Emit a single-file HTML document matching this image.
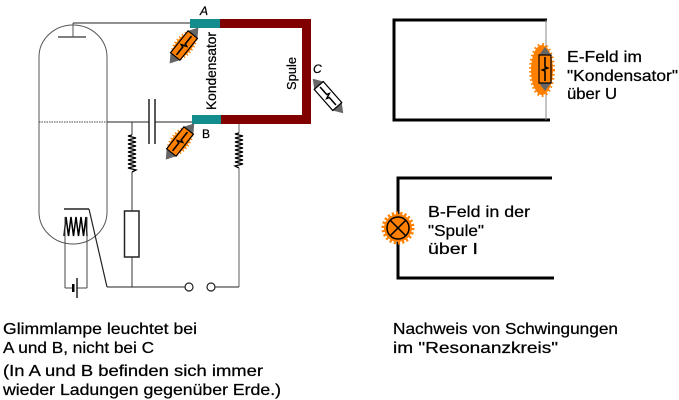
<!DOCTYPE html>
<html><head><meta charset="utf-8"><style>
html,body{margin:0;padding:0;background:#fff;}
svg{display:block;}
text{font-family:"Liberation Sans",sans-serif;fill:#000;stroke:#000;stroke-width:0.25;}
</style></head><body>
<svg width="679" height="400" viewBox="0 0 679 400" xmlns="http://www.w3.org/2000/svg">
<rect width="679" height="400" fill="#fff"/>
<!-- tube -->
<rect x="39" y="25" width="68" height="219" rx="34" ry="32" fill="none" stroke="#555" stroke-width="1"/>
<!-- anode -->
<line x1="73" y1="23" x2="73" y2="37" stroke="#555" stroke-width="1"/>
<line x1="58" y1="37" x2="86" y2="37" stroke="#555" stroke-width="1.5"/>
<line x1="73" y1="23" x2="191" y2="23" stroke="#222" stroke-width="1"/>
<!-- grid dashed -->
<line x1="39" y1="122" x2="107" y2="122" stroke="#444" stroke-width="1" stroke-dasharray="1.5 1"/>
<line x1="107" y1="122" x2="149" y2="122" stroke="#222" stroke-width="1"/>
<line x1="155" y1="122" x2="193" y2="122" stroke="#222" stroke-width="1"/>
<!-- capacitor -->
<line x1="149" y1="99" x2="149" y2="144" stroke="#222" stroke-width="1.5"/>
<line x1="155" y1="99" x2="155" y2="144" stroke="#222" stroke-width="1.5"/>
<!-- resistor 1 -->
<line x1="132" y1="122" x2="132" y2="135" stroke="#333" stroke-width="1"/>
<polyline fill="none" stroke="#000" stroke-width="1.3" points="132,135 128,136 136,138 128,140 136,142 128,144 136,146 128,148 136,150 128,152 136,154 128,156 136,158 128,160 136,162 128,164 136,166 128,168 136,170 132,172"/>
<line x1="132" y1="172" x2="132" y2="211" stroke="#333" stroke-width="1"/>
<rect x="124.5" y="211" width="14.5" height="46" fill="#fff" stroke="#222" stroke-width="1.5"/>
<line x1="132" y1="257" x2="132" y2="287" stroke="#333" stroke-width="1"/>
<!-- resistor 2 -->
<line x1="239" y1="124" x2="239" y2="133" stroke="#666" stroke-width="1"/>
<polyline fill="none" stroke="#000" stroke-width="1.3" points="239,133 235,134 243,136 235,138 243,140 235,142 243,144 235,146 243,148 235,150 243,152 235,154 243,156 235,158 243,160 235,162 243,164 235,166 239,168"/>
<line x1="239" y1="168" x2="239" y2="287" stroke="#777" stroke-width="1.2"/>
<!-- bottom wire -->
<line x1="107" y1="287" x2="185" y2="287" stroke="#222" stroke-width="1"/>
<circle cx="189" cy="287" r="4" fill="#fff" stroke="#222" stroke-width="1.2"/>
<circle cx="211" cy="287" r="4" fill="#fff" stroke="#222" stroke-width="1.2"/>
<line x1="215" y1="287" x2="239" y2="287" stroke="#222" stroke-width="1"/>
<!-- cathode / filament -->
<line x1="64" y1="209" x2="89" y2="209" stroke="#222" stroke-width="1.5"/>
<line x1="89" y1="209" x2="107" y2="287" stroke="#222" stroke-width="1.2"/>
<polyline fill="none" stroke="#000" stroke-width="1.5" points="64,236 66,217 68.5,236 71,217 73.5,236 76,217 78.5,236 81,217 83.5,236 86,217 87,236"/>
<line x1="65" y1="217" x2="65" y2="288" stroke="#444" stroke-width="1"/>
<line x1="87" y1="217" x2="87" y2="288" stroke="#444" stroke-width="1"/>
<line x1="65" y1="288" x2="72" y2="288" stroke="#444" stroke-width="1"/>
<line x1="77" y1="288" x2="87" y2="288" stroke="#444" stroke-width="1"/>
<rect x="72" y="284" width="2.5" height="8" fill="#000"/>
<line x1="77" y1="278" x2="77" y2="298" stroke="#000" stroke-width="1.3"/>
<!-- conductor bars -->
<rect x="190" y="19" width="30" height="9" fill="#128c8c"/>
<rect x="220" y="19" width="91" height="9" fill="#800000"/>
<rect x="302" y="19" width="9" height="105" fill="#800000"/>
<rect x="192" y="115" width="29" height="9" fill="#128c8c"/>
<rect x="221" y="115" width="90" height="9" fill="#800000"/>
<!-- labels -->
<text x="200" y="15" font-size="12" font-style="italic">A</text>
<text x="202" y="138" font-size="12">B</text>
<text x="313" y="73" font-size="12" font-style="italic">C</text>
<text transform="translate(216,110) rotate(-90)" font-size="14" textLength="78" lengthAdjust="spacingAndGlyphs">Kondensator</text>
<text transform="translate(296,90) rotate(-90)" font-size="13" textLength="33" lengthAdjust="spacingAndGlyphs">Spule</text>
<!-- lamp A -->
<g transform="translate(184,45.5) rotate(-51.3)">
<ellipse cx="0" cy="0" rx="16" ry="8" fill="#ff8000" stroke="#ff8000" stroke-width="3.5" stroke-dasharray="1.2 2.2"/>
<polygon points="-14,-6 -23,0 -14,6" fill="#666"/>
<polygon points="14,-6 23,0 14,6" fill="#666"/>
<rect x="-14" y="-6" width="28" height="12" fill="#ff8000" stroke="#000" stroke-width="1.2"/>
<path d="M-12,0 L-2,0 L-1,-2.5 L1,2.5 L2,0 L12,0" fill="none" stroke="#000" stroke-width="1.6"/>
</g>
<!-- lamp B -->
<g transform="translate(180,141.5) rotate(-51.8)">
<ellipse cx="0" cy="0" rx="16" ry="8" fill="#ff8000" stroke="#ff8000" stroke-width="3.5" stroke-dasharray="1.2 2.2"/>
<polygon points="-14,-6 -23,0 -14,6" fill="#666"/>
<polygon points="14,-6 23,0 14,6" fill="#666"/>
<rect x="-14" y="-6" width="28" height="12" fill="#ff8000" stroke="#000" stroke-width="1.2"/>
<path d="M-12,0 L-2,0 L-1,-2.5 L1,2.5 L2,0 L12,0" fill="none" stroke="#000" stroke-width="1.6"/>
</g>
<!-- lamp C -->
<g transform="translate(328,96) rotate(48.6)">
<polygon points="-14,-6 -23,0 -14,6" fill="#666"/>
<polygon points="14,-6 23,0 14,6" fill="#666"/>
<rect x="-14" y="-6" width="28" height="12" fill="#fff" stroke="#000" stroke-width="1.2"/>
<path d="M-12,0 L-2,0 L-1,-2.5 L1,2.5 L2,0 L12,0" fill="none" stroke="#000" stroke-width="1.6"/>
</g>
<!-- right top box -->
<path d="M547,20 L394,20 L394,120 L550,120" fill="none" stroke="#000" stroke-width="3"/>
<line x1="546" y1="20" x2="546" y2="120" stroke="#888" stroke-width="1"/>
<ellipse cx="542" cy="70" rx="11" ry="25" fill="#ff8000" stroke="#ff8000" stroke-width="4" stroke-dasharray="1.5 2.5"/>
<g transform="translate(545,69) rotate(90)">
<polygon points="-14,-6 -22,0 -14,6" fill="#666"/>
<polygon points="14,-6 22,0 14,6" fill="#666"/>
<rect x="-14" y="-6" width="28" height="12" fill="#ff8000" stroke="#000" stroke-width="1.2"/>
<path d="M-12,0 L-2,0 L-1,-2.5 L1,2.5 L2,0 L12,0" fill="none" stroke="#000" stroke-width="1.6"/>
</g>
<text x="567" y="62" font-size="16" textLength="75" lengthAdjust="spacingAndGlyphs">E-Feld im</text>
<text x="567" y="81" font-size="16" textLength="111" lengthAdjust="spacingAndGlyphs">"Kondensator"</text>
<text x="567" y="99" font-size="16" textLength="50" lengthAdjust="spacingAndGlyphs">über U</text>
<!-- right bottom box -->
<path d="M552,178 L398,178 L398,278 L554,278" fill="none" stroke="#000" stroke-width="3"/>
<circle cx="398" cy="228" r="14" fill="#ff8000" stroke="#ff8000" stroke-width="5" stroke-dasharray="2 2"/>
<circle cx="398" cy="228" r="11" fill="#ff8000" stroke="#000" stroke-width="1.5"/>
<line x1="390.2" y1="220.2" x2="405.8" y2="235.8" stroke="#000" stroke-width="1.5"/>
<line x1="405.8" y1="220.2" x2="390.2" y2="235.8" stroke="#000" stroke-width="1.5"/>
<text x="428" y="217" font-size="16" textLength="102" lengthAdjust="spacingAndGlyphs">B-Feld in der</text>
<text x="428" y="236" font-size="16" textLength="56" lengthAdjust="spacingAndGlyphs">"Spule"</text>
<text x="428" y="254" font-size="16" textLength="50" lengthAdjust="spacingAndGlyphs">über I</text>
<!-- bottom text -->
<text x="3" y="334" font-size="16" textLength="194" lengthAdjust="spacingAndGlyphs">Glimmlampe leuchtet bei</text>
<text x="3" y="353" font-size="16" textLength="151" lengthAdjust="spacingAndGlyphs">A und B, nicht bei C</text>
<text x="3" y="376" font-size="16" textLength="260" lengthAdjust="spacingAndGlyphs">(In A und B befinden sich immer</text>
<text x="3" y="395" font-size="16" textLength="278" lengthAdjust="spacingAndGlyphs">wieder Ladungen gegenüber Erde.)</text>
<text x="393" y="334" font-size="16" textLength="225" lengthAdjust="spacingAndGlyphs">Nachweis von Schwingungen</text>
<text x="393" y="353" font-size="16" textLength="165" lengthAdjust="spacingAndGlyphs">im "Resonanzkreis"</text>
</svg>
</body></html>
